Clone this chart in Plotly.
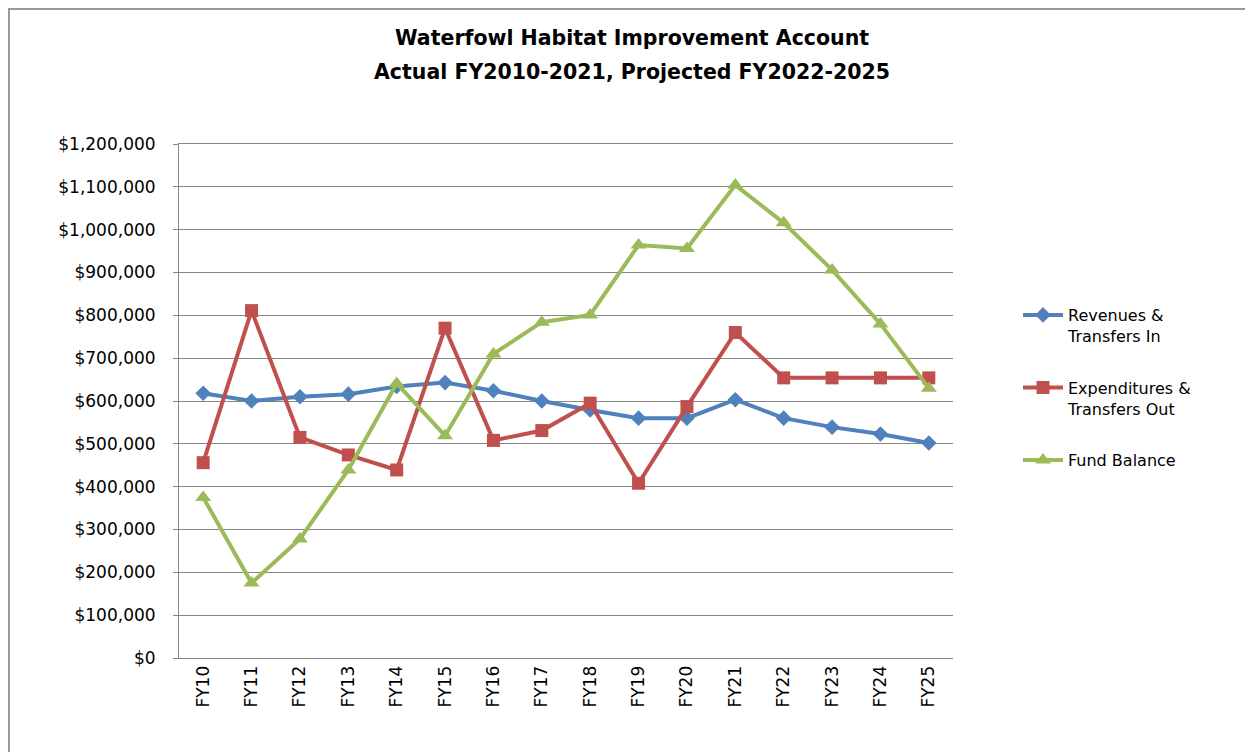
import plotly.graph_objects as go

categories = ["FY10", "FY11", "FY12", "FY13", "FY14", "FY15", "FY16", "FY17",
              "FY18", "FY19", "FY20", "FY21", "FY22", "FY23", "FY24", "FY25"]
revenues = [618000, 600000, 610000, 616000, 634000, 643000, 624000, 600000,
            579000, 560000, 560000, 603000, 560000, 539000, 523000, 502000]
expenditures = [456000, 811000, 515000, 474000, 439000, 770000, 508000, 531000,
                595000, 408000, 587000, 760000, 654000, 654000, 654000, 654000]
fund_balance = [375000, 175000, 278000, 439000, 641000, 519000, 710000, 784000,
                801000, 964000, 956000, 1104000, 1016000, 906000, 780000, 630000]

series_names = ["Revenues &<br>Transfers In", "Expenditures &<br>Transfers Out", "Fund Balance"]
colors = ["#4F81BD", "#C0504D", "#9BBB59"]
symbols = ["diamond", "square", "triangle-up"]
sizes = [12, 13, 14]

FONT = "DejaVu Sans"

fig = go.Figure()
for i, (name, vals, c, s, sz) in enumerate(zip(series_names, [revenues, expenditures, fund_balance], colors, symbols, sizes)):
    fig.add_trace(go.Scatter(
        x=categories, y=vals, name=name, mode="lines+markers",
        legendgroup=f"g{i}",
        line=dict(color=c, width=4),
        marker=dict(symbol=s, size=sz, color=c),
    ))

# page has an 8px body margin; work in page pixel coordinates
OFF = 8
W, H = 1253 - OFF, 752 - OFF
L, T = 179 - OFF, 144 - OFF
R = W - (953 - OFF)
B = H - (658 - OFF)
pw, ph = W - L - R, H - T - B

def px_x(x):
    return (x - OFF - L) / pw

def px_y(y):
    return (H - B - (y - OFF)) / ph

fig.update_layout(
    width=W, height=H,
    margin=dict(l=L, r=R, t=T, b=B, autoexpand=False),
    paper_bgcolor="white", plot_bgcolor="white",
    font=dict(family=FONT, color="#000000"),
    title=dict(text="<b>Waterfowl Habitat Improvement Account</b>",
               x=px_x(632), xanchor="center", y=1 - (38 - OFF) / H, yanchor="middle",
               xref="paper",
               font=dict(family=FONT, size=20.5, color="#000000")),
    annotations=[dict(text="<b>Actual FY2010-2021, Projected FY2022-2025</b>",
                      xref="paper", yref="paper", x=px_x(632), y=px_y(72),
                      xanchor="center", yanchor="middle", showarrow=False,
                      font=dict(family=FONT, size=20.5, color="#000000"))],
    xaxis=dict(type="category", tickangle=-90, showgrid=False,
               showline=True, linecolor="#868686", linewidth=1, mirror=True,
               ticks="", tickfont=dict(family=FONT, size=17, color="#000000"),
               range=[-0.5, 15.5]),
    yaxis=dict(range=[0, 1200000], dtick=100000, tickformat="$,.0f",
               showgrid=True, gridcolor="#868686", gridwidth=1,
               showline=True, linecolor="#868686", linewidth=1,
               ticks="outside", ticklen=5, tickcolor="#868686",
               ticklabelstandoff=14,
               zeroline=False,
               tickfont=dict(family=FONT, size=17, color="#000000")),
    legend=dict(x=px_x(1018), y=px_y(298), xanchor="left", yanchor="top",
                valign="top", font=dict(family=FONT, size=16, color="#000000"),
                itemwidth=40, tracegroupgap=28, bgcolor="rgba(0,0,0,0)"),
    shapes=[dict(type="rect", xref="paper", yref="paper",
                 x0=px_x(OFF + 1), x1=px_x(1275), y0=px_y(780), y1=px_y(OFF + 1),
                 line=dict(color="#9a9a9a", width=2), fillcolor="rgba(0,0,0,0)",
                 layer="below")],
)

fig.write_html("out.html")
